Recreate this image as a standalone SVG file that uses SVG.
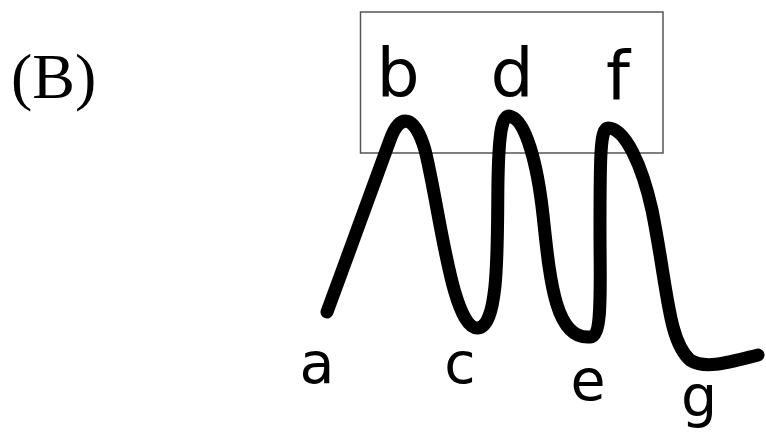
<svg xmlns="http://www.w3.org/2000/svg" width="766" height="434" viewBox="0 0 766 434">
<style>
.lbl{font-family:"DejaVu Sans",sans-serif;fill:#000;text-anchor:middle}
.up{font-size:68px}
.low{font-size:57px}
.title{font-family:"Liberation Serif",serif;font-size:64px;fill:#000}
.wave{fill:none;stroke:#000;stroke-width:13;stroke-linecap:round;stroke-linejoin:round}
.box{fill:none;stroke:#555;stroke-width:1.5}
</style>
<rect width="766" height="434" fill="#fff"/>
<text class="title" x="11" y="98">(B)</text>
<g id="box"><rect class="box" x="360.5" y="12" width="302.5" height="141"/></g>
<g id="connectors">
<path class="wave" d="M 327 312 C 350 250, 375 180, 390 140 C 400 112, 415 115, 425 150 C 440 210, 452 330, 478 328 C 500 326, 497 240, 498 180 C 499 130, 502 112, 512 117 C 525 122, 537 160, 543 215 C 550 280, 555 340, 590 337 C 603 336, 600 290, 600 230 C 600 160, 600 128, 608 128 C 625 128, 642 165, 652 210 C 668 290, 668 340, 690 360 C 705 370, 730 362, 758 355"/>
</g>
<g id="node-b"><text class="lbl up" x="398" y="97">b</text></g>
<g id="node-d"><text class="lbl up" x="512" y="97">d</text></g>
<g id="node-f"><text class="lbl up" x="618" y="100">f</text></g>
<g id="node-a"><text class="lbl low" x="317" y="383">a</text></g>
<g id="node-c"><text class="lbl low" x="460" y="383">c</text></g>
<g id="node-e"><text class="lbl low" x="588" y="400">e</text></g>
<g id="node-g"><text class="lbl low" x="699" y="416">g</text></g>
</svg>
